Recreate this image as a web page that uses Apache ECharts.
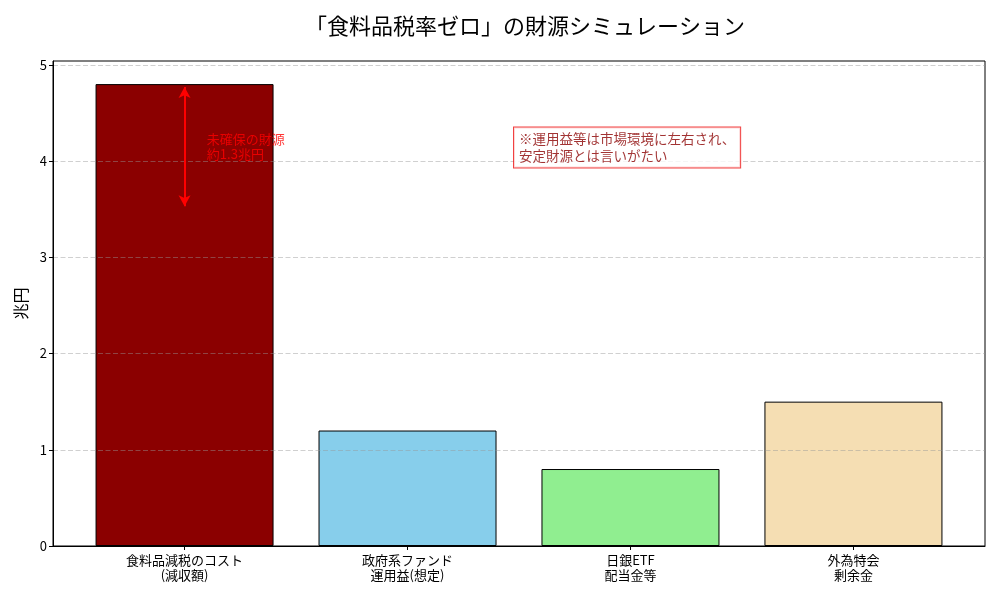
<!DOCTYPE html>
<html>
<head>
<meta charset="utf-8">
<script src="https://cdn.jsdelivr.net/npm/echarts@6/dist/echarts.min.js"></script>
<style>html,body{margin:0;padding:0;background:#fff;}#c{width:1000px;height:600px;}</style>
</head>
<body>
<div id="c"></div>
<script>
const categories = ['食料品減税のコスト\n(減収額)', '政府系ファンド\n運用益(想定)', '日銀ETF\n配当金等', '外為特会\n剰余金'];
const values = [4.8, 1.2, 0.8, 1.5];
const barColors = ['#8b0000', '#87ceeb', '#90ee90', '#f5deb3'];
const yTicks = [0, 1, 2, 3, 4, 5];
const arrowTop = 4.8;
const arrowBottom = 3.5;
const gapText = '未確保の財源\n約1.3兆円';
const noteText = '※運用益等は市場環境に左右され、\n安定財源とは言いがたい';
const titleText = '「食料品税率ゼロ」の財源シミュレーション';
const yName = '兆円';

const font = '"Noto Sans CJK JP", "Noto Sans", sans-serif';
const chart = echarts.init(document.getElementById('c'));
const xIdx = categories.map((_, i) => i);

chart.setOption({
  animation: false,
  textStyle: { fontFamily: font },
  title: {
    text: titleText,
    left: 520,
    textAlign: 'center',
    top: 10,
    textStyle: { fontSize: 22, fontWeight: 'normal', color: '#000', fontFamily: font }
  },
  grid: {
    left: 53, right: 15, top: 61, bottom: 54,
    show: true, borderColor: '#000', borderWidth: 1, backgroundColor: 'transparent'
  },
  xAxis: {
    type: 'value',
    min: -0.59,
    max: 3.59,
    z: 4,
    splitLine: { show: false },
    axisLine: { show: true, onZero: false, lineStyle: { color: '#000', width: 1 } },
    axisTick: { show: true, customValues: xIdx, length: 4, inside: false, lineStyle: { color: '#000' } },
    axisLabel: {
      customValues: xIdx,
      formatter: v => categories[Math.round(v)] || '',
      color: '#000', fontSize: 13, lineHeight: 15, margin: 7, fontFamily: font
    }
  },
  yAxis: {
    type: 'value',
    min: 0,
    max: 5.04,
    interval: 1,
    z: 3,
    name: yName,
    nameLocation: 'middle',
    nameGap: 23,
    nameTextStyle: { fontSize: 16, color: '#000', fontFamily: font },
    axisLine: { show: true, onZero: false, lineStyle: { color: '#000', width: 1 } },
    axisTick: { show: true, customValues: yTicks, length: 4, lineStyle: { color: '#000' } },
    axisLabel: { customValues: yTicks, color: '#000', fontSize: 13, margin: 6, fontFamily: font },
    splitLine: { show: true, lineStyle: { color: 'rgba(150,150,150,0.45)', type: [5, 2.5], width: 1 } }
  },
  series: [
    {
      type: 'bar',
      barWidth: 178,
      z: 2,
      data: values.map((v, i) => ({
        value: [i, v],
        itemStyle: { color: barColors[i], borderColor: '#000', borderWidth: 1 }
      })),
      emphasis: { disabled: true }
    },
    {
      type: 'scatter',
      z: 5,
      symbolSize: 0,
      data: [[0.1, 4.15]],
      label: {
        show: true, position: 'right', distance: 0,
        formatter: gapText, color: 'red', fontSize: 13, lineHeight: 15, fontFamily: font
      },
      emphasis: { disabled: true },
      markLine: {
        silent: true,
        symbol: ['arrow', 'arrow'],
        symbolSize: [9, 11],
        label: { show: false },
        lineStyle: { color: 'red', width: 2, type: 'solid' },
        emphasis: { disabled: true },
        data: [[{ coord: [0, arrowTop - 0.03] }, { coord: [0, arrowBottom + 0.03] }]]
      }
    },
    {
      type: 'scatter',
      z: 5,
      symbolSize: 0,
      data: [[1.5, 4.14]],
      label: {
        show: true, position: 'right', distance: 0, offset: [-5, 0],
        formatter: noteText, color: '#8b0000', fontSize: 13.5, lineHeight: 17, fontFamily: font,
        backgroundColor: '#fff', borderColor: '#ee1111', borderWidth: 1, padding: [3, 5, 3, 5]
      },
      emphasis: { disabled: true }
    }
  ]
});
</script>
</body>
</html>
